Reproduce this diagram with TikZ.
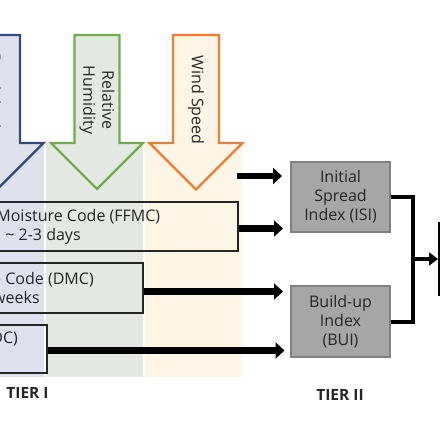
\documentclass[tikz,border=0pt]{standalone}
\usepackage{fontspec}
\setmainfont{Open Sans}
\usetikzlibrary{arrows.meta,calc}
\definecolor{colB}{RGB}{222,225,236}
\definecolor{colG}{RGB}{227,232,227}
\definecolor{colO}{RGB}{253,245,230}
\definecolor{lnB}{RGB}{47,74,125}
\definecolor{lnG}{RGB}{112,173,71}
\definecolor{lnO}{RGB}{237,125,49}
\definecolor{txt}{RGB}{38,38,38}
\definecolor{gfill}{RGB}{166,166,166}
\definecolor{gline}{RGB}{128,128,128}
\tikzset{
  blockarrow/.style={line width=2.2pt, line join=miter},
  codebox/.style={draw=txt, line width=2pt, align=center, text=txt, inner sep=0pt},
  tierbox/.style={draw=gline, fill=gfill, line width=2pt, align=center, text=txt,
     minimum width=99pt, minimum height=70pt, inner sep=0pt},
  bigarrow/.style={line width=6.5pt, -{Triangle[width=16pt,length=9pt]}},
  conn/.style={line width=4pt, line join=miter},
  smallarrow/.style={line width=4pt, -{Triangle[width=13pt,length=9pt]}},
  tierlabel/.style={font=\bfseries\fontsize{15.5}{18}\selectfont, text=txt}
}
\begin{document}
\begin{tikzpicture}[x=1pt,y=-1pt,font=\fontsize{16}{19}\selectfont]
\useasboundingbox (0,0) rectangle (440,440);
\clip (0,0) rectangle (440,440);
\fill[white] (0,0) rectangle (440,440);
% column backgrounds
\fill[colB] (-60,143) rectangle (44,377);
\fill[colG] (46,143) rectangle (143,377);
\fill[colO] (145,143) rectangle (242,377);
% block arrows
\draw[blockarrow, draw=lnB, fill=colB] (-26,35) -- (20,35) -- (20,143) -- (43.5,143) -- (-3,189.5) -- (-49.5,143) -- (-26,143) -- cycle;
\draw[blockarrow, draw=lnG, fill=colG] (74.5,35) -- (119.5,35) -- (119.5,143) -- (143,143) -- (97,189) -- (51,143) -- (74.5,143) -- cycle;
\draw[blockarrow, draw=lnO, fill=colO] (173,35) -- (219,35) -- (219,143) -- (242.5,143) -- (196,189.5) -- (149.5,143) -- (173,143) -- cycle;
\node[rotate=-90, text=txt] (prec) at (-7,101) {Precipitation};
\node[rotate=-90, align=center, text=txt] (rh) at (97,100) {Relative\\Humidity};
\node[rotate=-90, text=txt] (ws) at (196,100) {Wind Speed};
% tier I boxes
\node[codebox, minimum width=390pt, minimum height=49pt] (ffmc) at (43,226.5) {Fine Fuel Moisture Code (FFMC)\\\textasciitilde\ 2-3 days};
\node[codebox, minimum width=294pt, minimum height=50pt] (dmc) at (-4,288) {Duff Moisture Code (DMC)\\\textasciitilde\ 2-3 weeks};
\node[codebox, minimum width=197pt, minimum height=48pt] (dc) at (-52,349) {Drought Code (DC)\\\phantom{Ag}};
% tier II boxes
\node[tierbox] (isi) at (340.5,197) {Initial\\Spread\\Index (ISI)};
\node[tierbox, minimum height=71pt] (bui) at (340.5,321.5) {Build-up\\Index\\(BUI)};
% FWI box (cut off)
\node[draw=black, line width=2pt, minimum width=70pt, minimum height=72pt, anchor=west, inner sep=0pt] (fwi) at (438,259) {};
% arrows into tier II
\coordinate (wstart) at (237,176);
\coordinate (wend) at (282,176);
\draw[bigarrow] (wstart) -- (wend);
\draw[bigarrow] ($(ffmc.east)+(0,2)$) -- ++(44,0);
\draw[bigarrow] ($(dmc.east)+(0,3.5)$) -- ++(139,0);
\draw[bigarrow] ($(dc.east)+(0,1.5)$) -- ++(237,0);
% connector ISI/BUI -> FWI
\coordinate (junc) at (413,259);
\draw[conn] (isi.east) -| (junc) |- (bui.east);
\draw[smallarrow] (junc) -- (fwi.west);
% tier labels
\node[tierlabel] (t1) at (27.5,393) {TIER I};
\node[tierlabel] (t2) at (340,395) {TIER II};
\end{tikzpicture}
\end{document}
